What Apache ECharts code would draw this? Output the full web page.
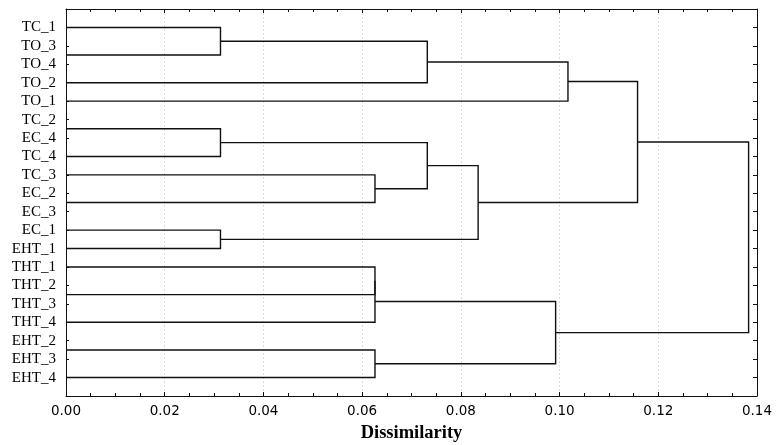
<!DOCTYPE html>
<html>
<head>
<meta charset="utf-8">
<script src="https://cdn.jsdelivr.net/npm/echarts@6/dist/echarts.min.js"></script>
<style>
html,body{margin:0;padding:0;background:#fff;}
#chart{width:778px;height:445px;}
</style>
</head>
<body>
<div id="chart"></div>
<script>
// Row labels (top to bottom), at axis positions 1..20
const rowLabels = ['TC_1','TO_3','TO_4','TO_2','TO_1','TC_2','EC_4','TC_4','TC_3','EC_2',
  'EC_3','EC_1','EHT_1','THT_1','THT_2','THT_3','THT_4','EHT_2','EHT_3','EHT_4'];
// Leaf line rows on the vertical scale (as drawn in the reference)
const leafRows = [1, 2.5, 4, 5, 6.5, 8, 9, 10.5, 12, 13, 14, 15.5, 17, 18.5, 20];
// Merges: [childA, childB, dissimilarity]; ids < 15 are leaves, 15+ are earlier merges
const merges = [
  [0, 1, 0.0313],
  [15, 2, 0.0732],
  [16, 3, 0.1017],
  [4, 5, 0.0313],
  [6, 7, 0.0626],
  [18, 19, 0.0732],
  [8, 9, 0.0313],
  [20, 21, 0.0835],
  [17, 22, 0.1158],
  [10, 11, 0.0626],
  [24, 12, 0.0626],
  [13, 14, 0.0626],
  [25, 26, 0.0992],
  [23, 27, 0.1383]
];
const xTicks = [0, 0.02, 0.04, 0.06, 0.08, 0.10, 0.12, 0.14];

// Build node positions from the data
const nodeY = leafRows.slice();
const nodeH = leafRows.map(() => 0);
const segs = [];
merges.forEach(m => {
  const [a, b, h] = m;
  segs.push([nodeH[a], nodeY[a], h, nodeY[b], nodeH[b]]);
  nodeY.push((nodeY[a] + nodeY[b]) / 2);
  nodeH.push(h);
});

const chart = echarts.init(document.getElementById('chart'));
const rowPos = rowLabels.map((_, i) => i + 1);
const xAxisCommon = {
  type: 'value', min: 0, max: 0.14, interval: 0.02,
  axisLine: {show: true, onZero: false, lineStyle: {color: '#111', width: 1}},
  axisTick: {show: true, inside: true, length: 4, lineStyle: {color: '#111'}},
  minorTick: {show: true, splitNumber: 4, length: 3, lineStyle: {color: '#111'}},
};
chart.setOption({
  animation: false,
  backgroundColor: '#fff',
  grid: {left: 66, right: 21, top: 9, bottom: 49, containLabel: false, outerBoundsMode: 'none'},
  xAxis: [
    Object.assign({}, xAxisCommon, {
      position: 'bottom',
      name: 'Dissimilarity', nameLocation: 'middle', nameGap: 28,
      nameTextStyle: {fontFamily: 'Liberation Serif', fontWeight: 'bold', fontSize: 18.5, color: '#000'},
      axisLabel: {show: true, margin: 8, fontFamily: 'DejaVu Sans', fontSize: 13.5, color: '#000',
        customValues: xTicks, formatter: v => v.toFixed(2)},
      splitLine: {show: true, lineStyle: {color: '#dcdcdc', type: [2, 2], width: 1}}
    }),
    Object.assign({}, xAxisCommon, {
      position: 'top',
      axisLabel: {show: false},
      splitLine: {show: false}
    })
  ],
  yAxis: [
    {
      type: 'value', inverse: true, min: 0, max: 21, interval: 1, position: 'left',
      axisLine: {show: true, onZero: false, lineStyle: {color: '#111'}},
      axisTick: {show: true, inside: true, length: 3, customValues: rowPos, lineStyle: {color: '#111'}},
      axisLabel: {show: true, margin: 10, fontFamily: 'Liberation Serif', fontSize: 15, color: '#000',
        customValues: rowPos, formatter: v => rowLabels[Math.round(v) - 1] || ''},
      splitLine: {show: false}
    },
    {
      type: 'value', inverse: true, min: 0, max: 21, interval: 1, position: 'right',
      axisLine: {show: true, onZero: false, lineStyle: {color: '#111'}},
      axisTick: {show: true, inside: true, length: 4, customValues: rowPos, lineStyle: {color: '#111'}},
      axisLabel: {show: false},
      splitLine: {show: false}
    }
  ],
  series: [{
    type: 'custom',
    xAxisIndex: 0, yAxisIndex: 0,
    clip: false,
    data: segs.map((s, i) => [s[2], s[1], s[3], i]),
    renderItem: (params, api) => {
      const s = segs[params.dataIndex];
      const p = [
        api.coord([s[0], s[1]]),
        api.coord([s[2], s[1]]),
        api.coord([s[2], s[3]]),
        api.coord([s[4], s[3]])
      ];
      return {
        type: 'polyline',
        shape: {points: p},
        style: {stroke: '#111', lineWidth: 1.4, fill: null}
      };
    }
  }]
});
</script>
</body>
</html>
